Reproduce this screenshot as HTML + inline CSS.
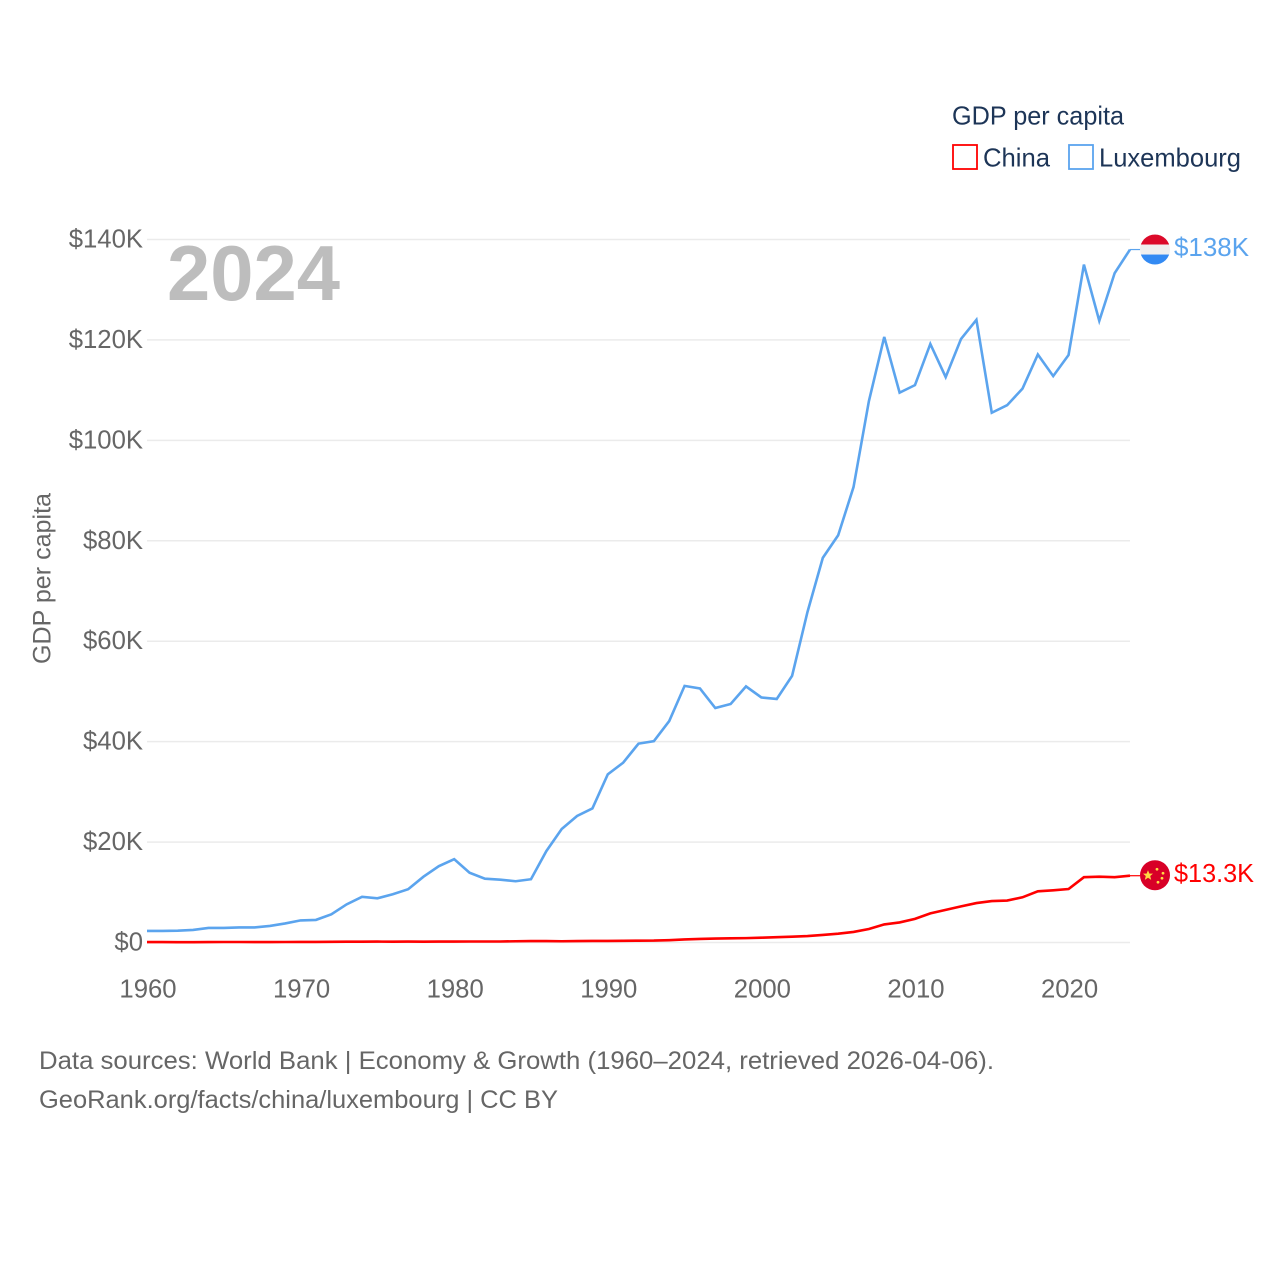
<!DOCTYPE html>
<html lang="en">
<head>
<meta charset="utf-8">
<title>GDP per capita: China and Luxembourg</title>
<style>
html,body{margin:0;padding:0;background:#fff;}
svg{display:block;font-family:"Liberation Sans",sans-serif;}
</style>
</head>
<body>
<svg id="chart" xmlns="http://www.w3.org/2000/svg" width="1280" height="1280" viewBox="0 0 1280 1280">
  <rect x="0" y="0" width="1280" height="1280" fill="#ffffff"/>
  <g id="grid"></g>
  <g id="yticks"></g>
  <g id="xticks"></g>
  <text transform="translate(50.5,664) rotate(-90)" font-size="25" fill="#666666" textLength="171" lengthAdjust="spacingAndGlyphs">GDP per capita</text>
  <text x="167" y="300" font-size="78" font-weight="700" fill="#bdbdbd" textLength="173" lengthAdjust="spacingAndGlyphs">2024</text>
  <g id="series"></g>
  <g id="ends"></g>
  <g>
    <text x="952" y="124.5" font-size="26" fill="#1d3557" textLength="172" lengthAdjust="spacingAndGlyphs">GDP per capita</text>
    <rect x="953" y="145" width="24" height="24" fill="none" stroke="#ff0000" stroke-width="1.8"/>
    <text x="983" y="166.5" font-size="26" fill="#1d3557" textLength="67" lengthAdjust="spacingAndGlyphs">China</text>
    <rect x="1069" y="145" width="24" height="24" fill="none" stroke="#5ba4ee" stroke-width="1.8"/>
    <text x="1099" y="166.5" font-size="26" fill="#1d3557" textLength="142" lengthAdjust="spacingAndGlyphs">Luxembourg</text>
  </g>
  <g>
    <text x="39" y="1069" font-size="25" fill="#666666" textLength="955" lengthAdjust="spacingAndGlyphs">Data sources: World Bank | Economy &amp; Growth (1960–2024, retrieved 2026-04-06).</text>
    <text x="39" y="1108" font-size="25" fill="#666666" textLength="519" lengthAdjust="spacingAndGlyphs">GeoRank.org/facts/china/luxembourg | CC BY</text>
  </g>
</svg>
<script>
const firstYear = 1960;
const luxembourgValues = [2.3,2.3,2.35,2.5,2.9,2.9,3.0,3.0,3.3,3.8,4.4,4.5,5.6,7.6,9.1,8.8,9.6,10.6,13.1,15.2,16.6,13.9,12.7,12.5,12.2,12.6,18.2,22.6,25.2,26.7,33.5,35.8,39.6,40.1,44.1,51.1,50.6,46.7,47.5,51.0,48.8,48.5,53.1,65.8,76.6,81.1,90.7,107.8,120.6,109.5,111.0,119.2,112.6,120.2,124.0,105.5,107.0,110.3,117.1,112.8,117.0,135.0,123.8,133.3,138.0];
const chinaValues = [0.09,0.08,0.07,0.07,0.08,0.1,0.1,0.09,0.09,0.1,0.11,0.12,0.13,0.16,0.16,0.18,0.16,0.18,0.16,0.18,0.19,0.2,0.2,0.2,0.25,0.29,0.28,0.25,0.28,0.31,0.32,0.33,0.37,0.38,0.47,0.61,0.71,0.78,0.83,0.87,0.96,1.05,1.15,1.29,1.51,1.75,2.1,2.69,3.6,4.0,4.7,5.8,6.5,7.2,7.85,8.25,8.35,9.0,10.2,10.4,10.65,13.0,13.1,13.0,13.3];
const yTickValues = [0,20,40,60,80,100,120,140];
const yTickLabels = ["$0","$20K","$40K","$60K","$80K","$100K","$120K","$140K"];
const xTickYears = [1960,1970,1980,1990,2000,2010,2020];
const luxembourgEndLabel = "$138K";
const chinaEndLabel = "$13.3K";

const NS = "http://www.w3.org/2000/svg";
const lastYear = firstYear + luxembourgValues.length - 1;
function xScale(year){ return 147 + (year - firstYear) * (1130 - 147) / 64; }
function yScale(value){ return 942.5 - value * 703 / 140; }
function make(tag, attrs, parent){
  const el = document.createElementNS(NS, tag);
  for (const k in attrs) el.setAttribute(k, attrs[k]);
  parent.appendChild(el);
  return el;
}
const grid = document.getElementById("grid");
const yticks = document.getElementById("yticks");
const xticks = document.getElementById("xticks");
const series = document.getElementById("series");
const ends = document.getElementById("ends");

yTickValues.forEach(function(v, i){
  const line = make("line", {x1:147, x2:1130, y1:yScale(v), y2:yScale(v), stroke:"#ebebeb", "stroke-width":1.5}, grid);
  
  
  const label = make("text", {x:143, y:yScale(v)+8, "text-anchor":"end", "font-size":25.7, fill:"#666666"}, yticks);
  
  
  label.textContent = yTickLabels[i];
});
xTickYears.forEach(function(year){
  const label = make("text", {x:xScale(year)+1, y:997.5, "text-anchor":"middle", "font-size":25.7, fill:"#666666"}, xticks);
  
  
  label.textContent = String(year);
});
function pointsFor(values){
  return values.map(function(v, i){ return xScale(firstYear + i).toFixed(2) + "," + yScale(v).toFixed(2); }).join(" ");
}
const luxLine = make("polyline", {points:pointsFor(luxembourgValues), fill:"none", stroke:"#5ba4ee", "stroke-width":2.6, "stroke-linejoin":"miter"}, series);


const chinaLine = make("polyline", {points:pointsFor(chinaValues), fill:"none", stroke:"#ff0000", "stroke-width":2.6, "stroke-linejoin":"miter"}, series);



const endX = xScale(lastYear);
const luxY = yScale(luxembourgValues[luxembourgValues.length - 1]);
const chinaY = yScale(chinaValues[chinaValues.length - 1]);

const luxConn = make("line", {x1:endX, x2:endX+10, y1:luxY, y2:luxY, stroke:"#5ba4ee", "stroke-width":1.2}, ends);


const chinaConn = make("line", {x1:endX, x2:endX+10, y1:chinaY, y2:chinaY, stroke:"#ff0000", "stroke-width":1.2}, ends);



// Luxembourg flag
const cx = endX + 25;
const luxFlag = make("g", {transform:"translate(" + cx + "," + luxY + ")"}, ends);


const luxClip = make("clipPath", {id:"lux-clip"}, luxFlag);
make("circle", {r:15}, luxClip);
const luxBands = make("g", {"clip-path":"url(#lux-clip)"}, luxFlag);
make("rect", {x:-15, y:-15, width:30, height:10, fill:"#dc0a2a"}, luxBands);
make("rect", {x:-15, y:-5, width:30, height:10, fill:"#efefef"}, luxBands);
make("rect", {x:-15, y:5, width:30, height:10, fill:"#338af3"}, luxBands);

// China flag
const chinaFlag = make("g", {transform:"translate(" + cx + "," + (chinaY - 0.5) + ")"}, ends);


make("circle", {r:15, fill:"#d80027"}, chinaFlag);
make("polygon", {points:"-7,-5 -5.6,-1.6 -2,-1.6 -4.8,0.8 -3.8,4.6 -7,2.5 -10.2,4.6 -9.2,0.8 -12,-1.6 -8.4,-1.6", fill:"#ffda44"}, chinaFlag);
make("circle", {cx:2, cy:-6, r:1.4, fill:"#ffda44"}, chinaFlag);
make("circle", {cx:8, cy:-2, r:1.4, fill:"#ffda44"}, chinaFlag);
make("circle", {cx:7, cy:3, r:1.4, fill:"#ffda44"}, chinaFlag);
make("circle", {cx:3, cy:7, r:1.4, fill:"#ffda44"}, chinaFlag);

const luxLabel = make("text", {x:1174, y:luxY+6.5, "font-size":25.5, fill:"#5ba4ee", textLength:75, lengthAdjust:"spacingAndGlyphs"}, ends);


luxLabel.textContent = luxembourgEndLabel;
const chinaLabel = make("text", {x:1174, y:chinaY+6.5, "font-size":25.5, fill:"#ff0000", textLength:80, lengthAdjust:"spacingAndGlyphs"}, ends);


chinaLabel.textContent = chinaEndLabel;
</script>
</body>
</html>
